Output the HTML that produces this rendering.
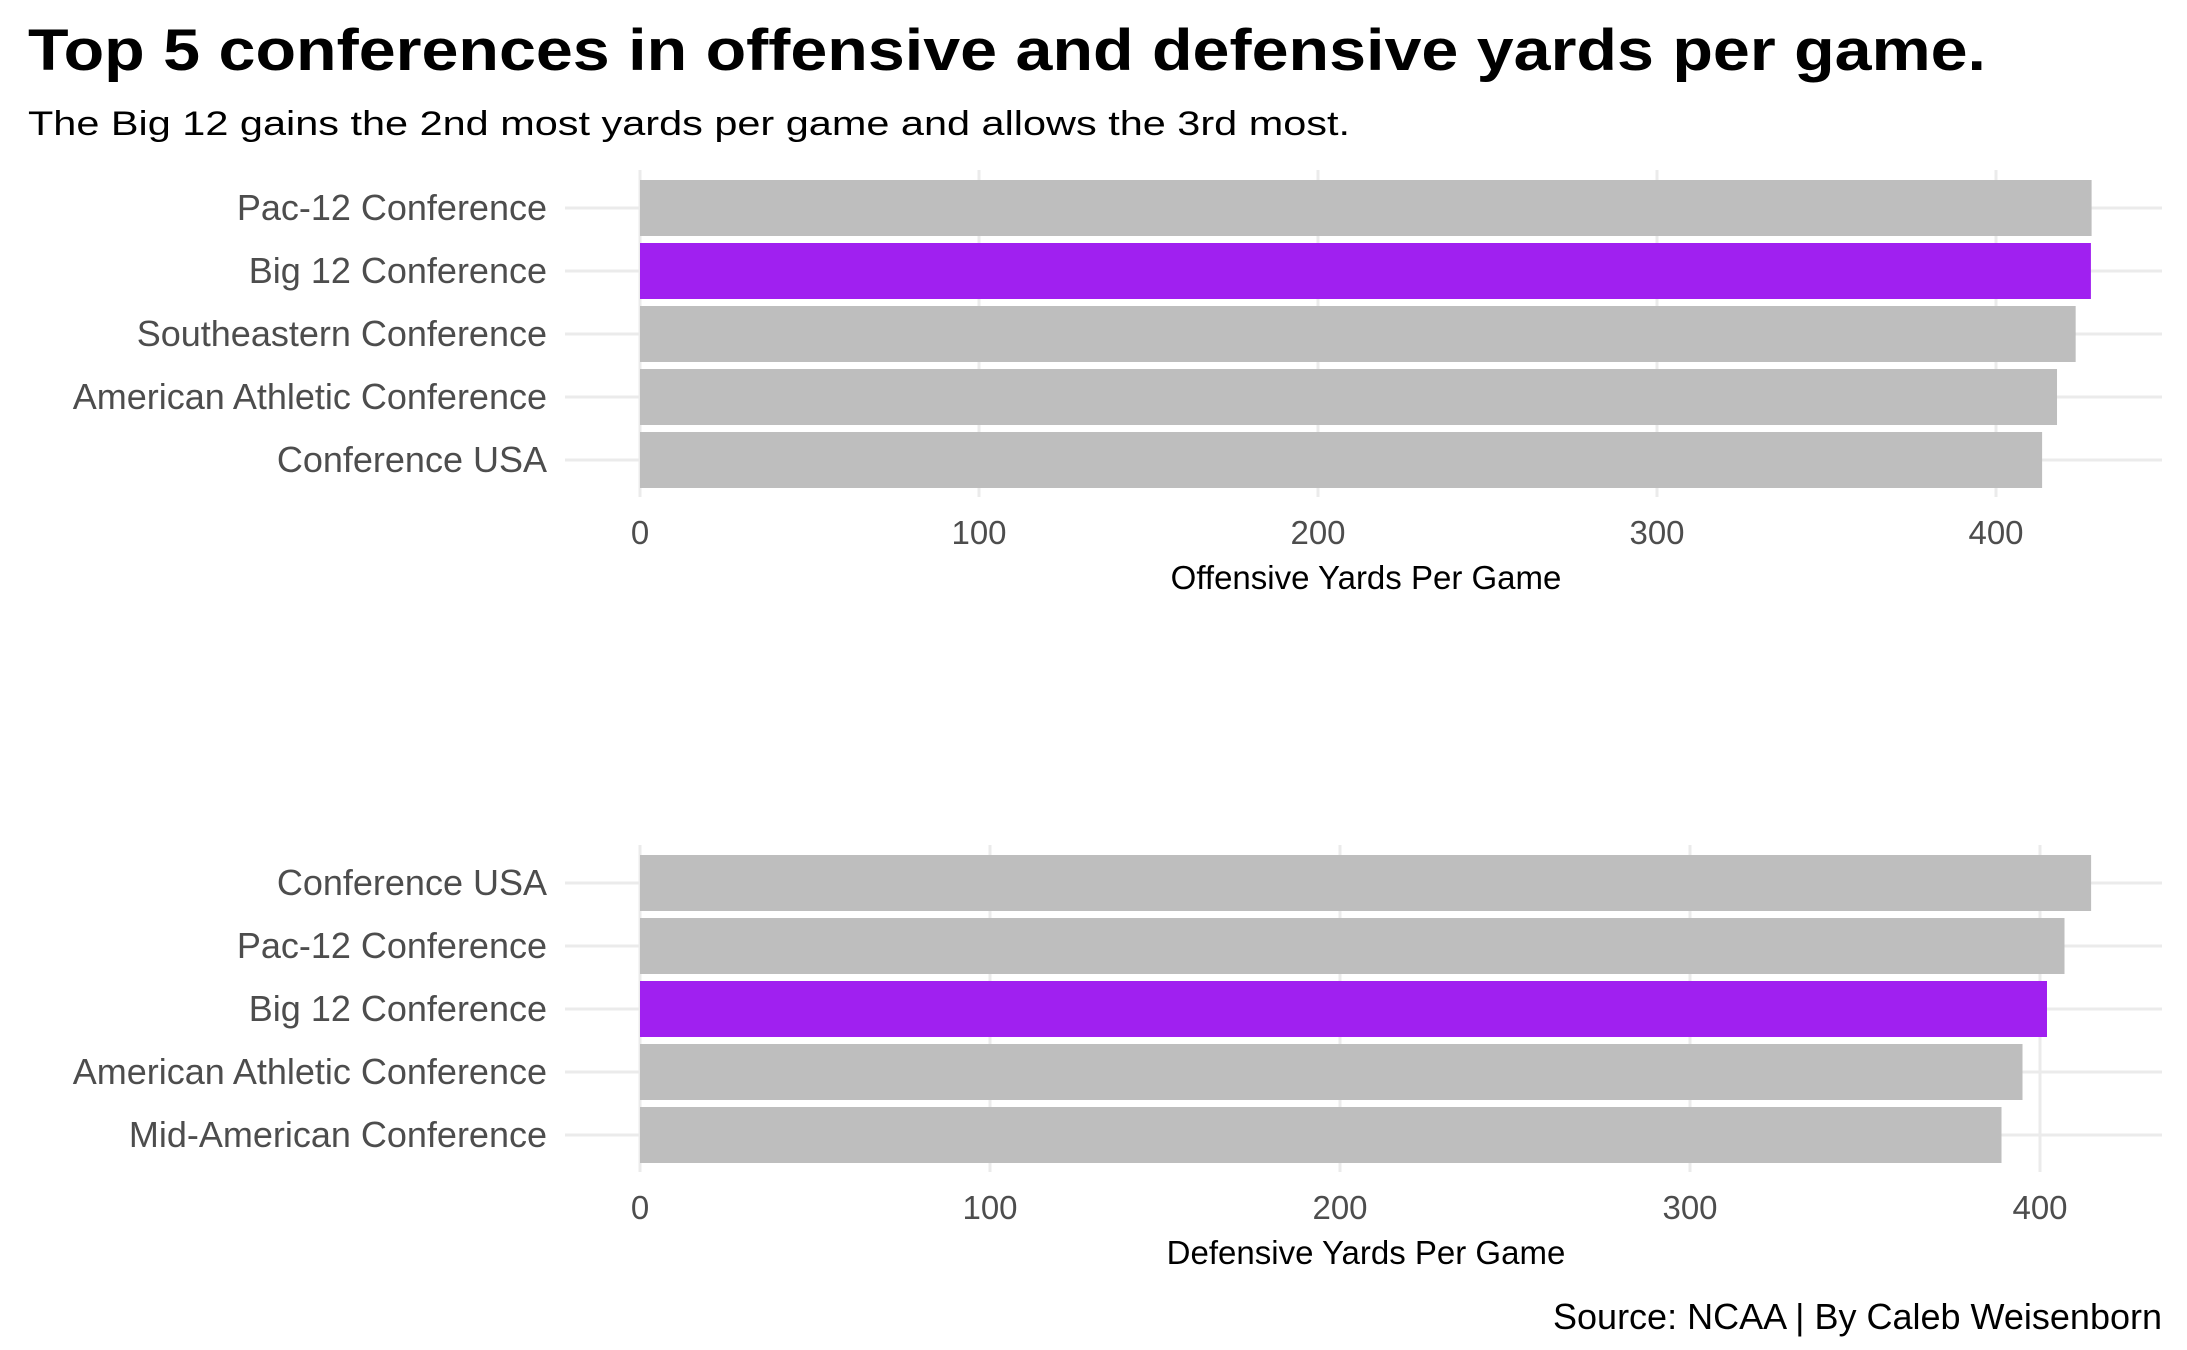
<!DOCTYPE html>
<html><head><meta charset="utf-8"><style>
html,body{margin:0;padding:0;background:#fff}
svg{display:block;font-family:"Liberation Sans",Arial,sans-serif}
</style></head><body>
<svg id="chart" width="2187" height="1350" viewBox="0 0 2187 1350">
<text x="28" y="70" font-size="58" font-weight="bold" fill="#000" textLength="1958" lengthAdjust="spacingAndGlyphs">Top 5 conferences in offensive and defensive yards per game.</text>
<text x="28" y="135" font-size="34" fill="#000" textLength="1322" lengthAdjust="spacingAndGlyphs">The Big 12 gains the 2nd most yards per game and allows the 3rd most.</text>
<g id="top"></g>
<g id="bot"></g>
<text x="2162" y="1329" font-size="36" text-anchor="end" fill="#000">Source: NCAA | By Caleb Weisenborn</text>
</svg>
<script>
const offCategories = ["Pac-12 Conference","Big 12 Conference","Southeastern Conference","American Athletic Conference","Conference USA"];
const offValues = [428.2, 428, 423.5, 418, 413.6];
const defCategories = ["Conference USA","Pac-12 Conference","Big 12 Conference","American Athletic Conference","Mid-American Conference"];
const defValues = [414.6, 407, 402, 395, 389];
const tickValues = [0,100,200,300,400];
const highlight = "Big 12 Conference";
const NS="http://www.w3.org/2000/svg";
function mk(tag,attrs,parent){const e=document.createElementNS(NS,tag);for(const k in attrs)e.setAttribute(k,attrs[k]);parent.appendChild(e);return e;}
function panel(g,cats,vals,x0,pxPer,yFirst,gTop,gBot,tickY,titleY,title){
  const x=v=>x0+v*pxPer;
  const pitch=63, bh=56;
  tickValues.forEach(t=>{
    const l=mk('line',{x1:x(t),x2:x(t),y1:gTop,y2:gBot,stroke:'#ebebeb','stroke-width':3},g);
    
    
    const tx=mk('text',{x:x(t),y:tickY,'font-size':33,fill:'#4d4d4d','text-anchor':'middle'},g);
    tx.textContent=t;
    
    
  });
  cats.forEach((c,i)=>{
    const cy=yFirst+i*pitch;
    const l=mk('line',{x1:565,x2:2162,y1:cy,y2:cy,stroke:'#ebebeb','stroke-width':3},g);
    
    
  });
  cats.forEach((c,i)=>{
    const cy=yFirst+i*pitch;
    const r=mk('rect',{x:x(0),y:cy-bh/2,width:x(vals[i])-x(0),height:bh,fill:c===highlight?'#a020f0':'#bebebe'},g);
    
    
    const t=mk('text',{x:547,y:cy+12,'font-size':36,fill:'#4d4d4d','text-anchor':'end'},g);
    t.textContent=c;
    
    
  });
  const at=mk('text',{x:1366,y:titleY,'font-size':33,fill:'#000','text-anchor':'middle'},g);
  at.textContent=title;
  
  
}
panel(document.getElementById('top'),offCategories,offValues,640,3.39,208,170,497,544,589,"Offensive Yards Per Game");
panel(document.getElementById('bot'),defCategories,defValues,640,3.50,883,845,1172,1219,1264,"Defensive Yards Per Game");
</script>
</body></html>
